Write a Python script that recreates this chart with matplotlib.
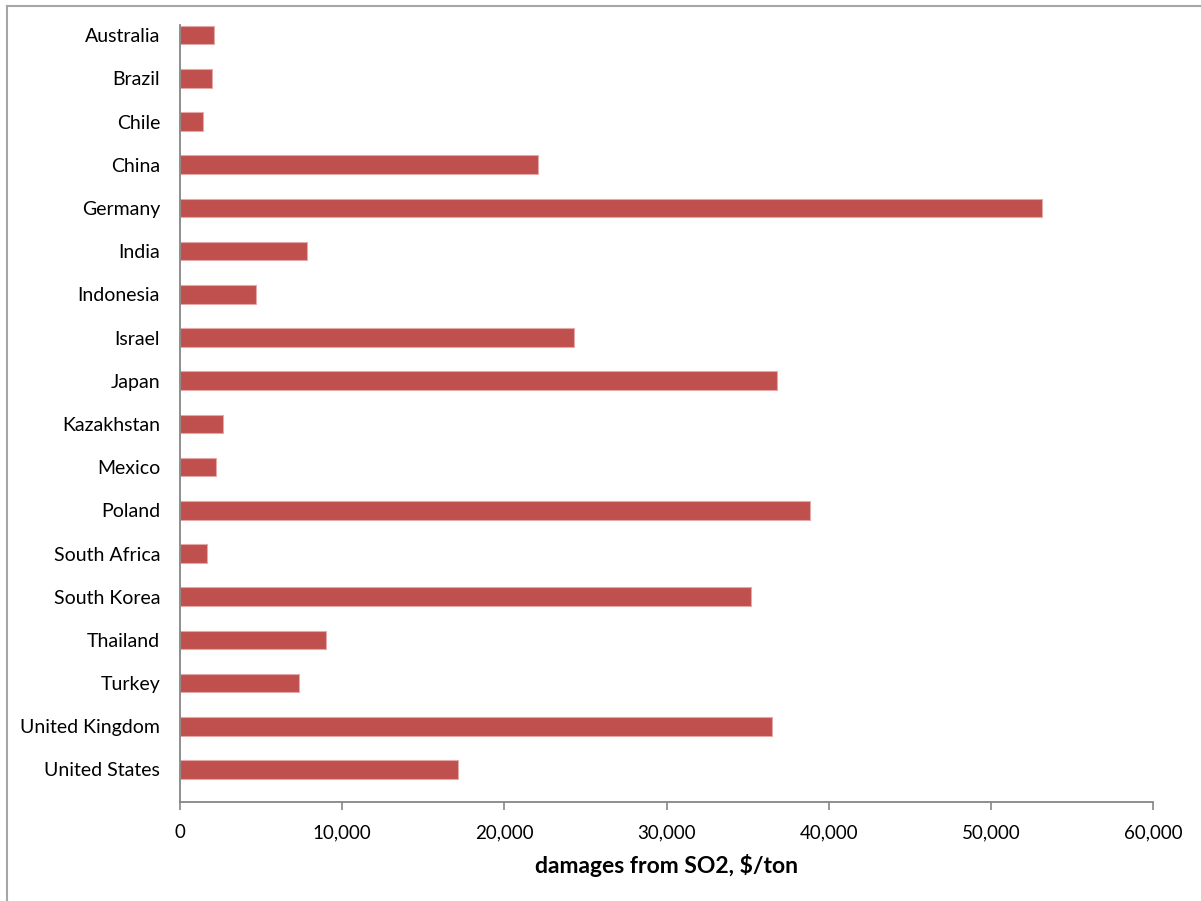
import matplotlib.pyplot as plt
from matplotlib.lines import Line2D
from matplotlib.ticker import FuncFormatter

countries = ['Australia', 'Brazil', 'Chile', 'China', 'Germany', 'India',
             'Indonesia', 'Israel', 'Japan', 'Kazakhstan', 'Mexico', 'Poland',
             'South Africa', 'South Korea', 'Thailand', 'Turkey',
             'United Kingdom', 'United States']
damages = [2080, 1990, 1400, 22060, 53170, 7850,
           4670, 24300, 36790, 2650, 2240, 38870,
           1640, 35190, 9000, 7340,
           36520, 17120]
xticks = [0, 10000, 20000, 30000, 40000, 50000, 60000]

plt.rcParams['font.family'] = ['Lato', 'DejaVu Sans']

fig = plt.figure(figsize=(12.01, 9.01), dpi=100)
ax = fig.add_axes([0.150, 0.110, 0.810, 0.862])

pos = list(range(len(countries)))
ax.barh(pos, damages, height=0.43, color='#C0504D',
        edgecolor='#e3a9a8', linewidth=0.8)

ax.set_yticks(pos)
ax.set_yticklabels(countries, fontsize=14)
ax.set_ylim(17.75, -0.23)
ax.set_xlim(0, 60000)
ax.set_xticks(xticks)
ax.xaxis.set_major_formatter(FuncFormatter(lambda v, p: f'{int(v):,}'))
ax.tick_params(axis='x', labelsize=13.5, length=6, width=1.2, color='#868686',
               pad=10, labelcolor='black')
ax.tick_params(axis='y', length=0, pad=14.5)
ax.set_xlabel('damages from SO2, $/ton', fontsize=16.5, fontweight='bold',
              labelpad=9)

for side in ['top', 'right']:
    ax.spines[side].set_visible(False)
for side in ['left', 'bottom']:
    ax.spines[side].set_color('#868686')
    ax.spines[side].set_linewidth(1.3)

# outer chart frame (top and left edges only)
fig.add_artist(Line2D([0.0058, 1.0], [0.9937, 0.9937], color='#a6a6a6',
                      linewidth=1.5, transform=fig.transFigure))
fig.add_artist(Line2D([0.0058, 0.0058], [0.0, 0.9937], color='#a6a6a6',
                      linewidth=1.5, transform=fig.transFigure))

fig.savefig('out.png', dpi=100)
